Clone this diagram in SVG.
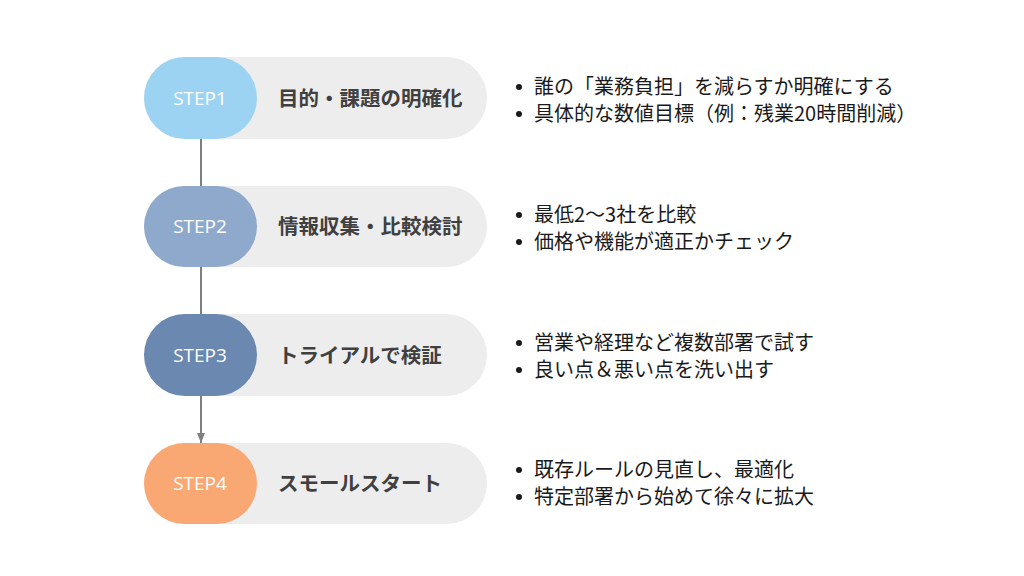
<svg xmlns="http://www.w3.org/2000/svg" width="1024" height="576" viewBox="0 0 1024 576">
<defs>
<style>
.pill{fill:#ededed}
.step{font-family:"Open Sans","Noto Sans",sans-serif;font-size:19px;fill:#ffffff;text-anchor:middle}
.title{font-family:"Noto Sans CJK JP","Noto Sans",sans-serif;font-size:20.5px;font-weight:bold;fill:#404040}
.item{font-family:"Noto Sans CJK JP","Noto Sans",sans-serif;font-size:20px;fill:#1a1a1a}
.bul{fill:#1a1a1a}
.conn{stroke:#7f7f7f;stroke-width:2;fill:none}
</style>
<marker id="arr" viewBox="0 0 10 8" refX="10" refY="4" markerWidth="10" markerHeight="8" markerUnits="userSpaceOnUse" orient="auto">
<path d="M0,0 L10,4 L0,8 Z" fill="#7f7f7f"/>
</marker>
</defs>
<rect width="1024" height="576" fill="#ffffff"/>
<g id="connectors">
<line class="conn" x1="201" y1="139" x2="201" y2="186"/>
<line class="conn" x1="201" y1="267" x2="201" y2="314"/>
<line class="conn" x1="201" y1="396" x2="201" y2="443" marker-end="url(#arr)"/>
</g>
<g id="step1">
<rect class="pill" x="144" y="57" width="343" height="82" rx="41"/>
<rect x="144" y="57" width="113" height="82" rx="41" fill="#9dd3f2"/>
<text class="step" x="200" y="105">STEP1</text>
<text class="title" x="278" y="106">目的・課題の明確化</text>
<circle class="bul" cx="519" cy="87" r="3"/>
<text class="item" x="534" y="94">誰の「業務負担」を減らすか明確にする</text>
<circle class="bul" cx="519" cy="114" r="3"/>
<text class="item" x="534" y="121">具体的な数値目標（例：残業20時間削減）</text>
</g>
<g id="step2">
<rect class="pill" x="144" y="186" width="343" height="81" rx="40.5"/>
<rect x="144" y="186" width="113" height="81" rx="40.5" fill="#8ea9cb"/>
<text class="step" x="200" y="233">STEP2</text>
<text class="title" x="278" y="234">情報収集・比較検討</text>
<circle class="bul" cx="519" cy="215" r="3"/>
<text class="item" x="534" y="222">最低2〜3社を比較</text>
<circle class="bul" cx="519" cy="242" r="3"/>
<text class="item" x="534" y="249">価格や機能が適正かチェック</text>
</g>
<g id="step3">
<rect class="pill" x="144" y="314" width="343" height="82" rx="41"/>
<rect x="144" y="314" width="113" height="82" rx="41" fill="#6a88b0"/>
<text class="step" x="200" y="362">STEP3</text>
<text class="title" x="278" y="363">トライアルで検証</text>
<circle class="bul" cx="519" cy="343" r="3"/>
<text class="item" x="534" y="350">営業や経理など複数部署で試す</text>
<circle class="bul" cx="519" cy="370" r="3"/>
<text class="item" x="534" y="377">良い点＆悪い点を洗い出す</text>
</g>
<g id="step4">
<rect class="pill" x="144" y="443" width="343" height="81" rx="40.5"/>
<rect x="144" y="443" width="113" height="81" rx="40.5" fill="#f9a873"/>
<text class="step" x="200" y="490">STEP4</text>
<text class="title" x="278" y="491">スモールスタート</text>
<circle class="bul" cx="519" cy="470" r="3"/>
<text class="item" x="534" y="477">既存ルールの見直し、最適化</text>
<circle class="bul" cx="519" cy="497" r="3"/>
<text class="item" x="534" y="504">特定部署から始めて徐々に拡大</text>
</g>
</svg>
